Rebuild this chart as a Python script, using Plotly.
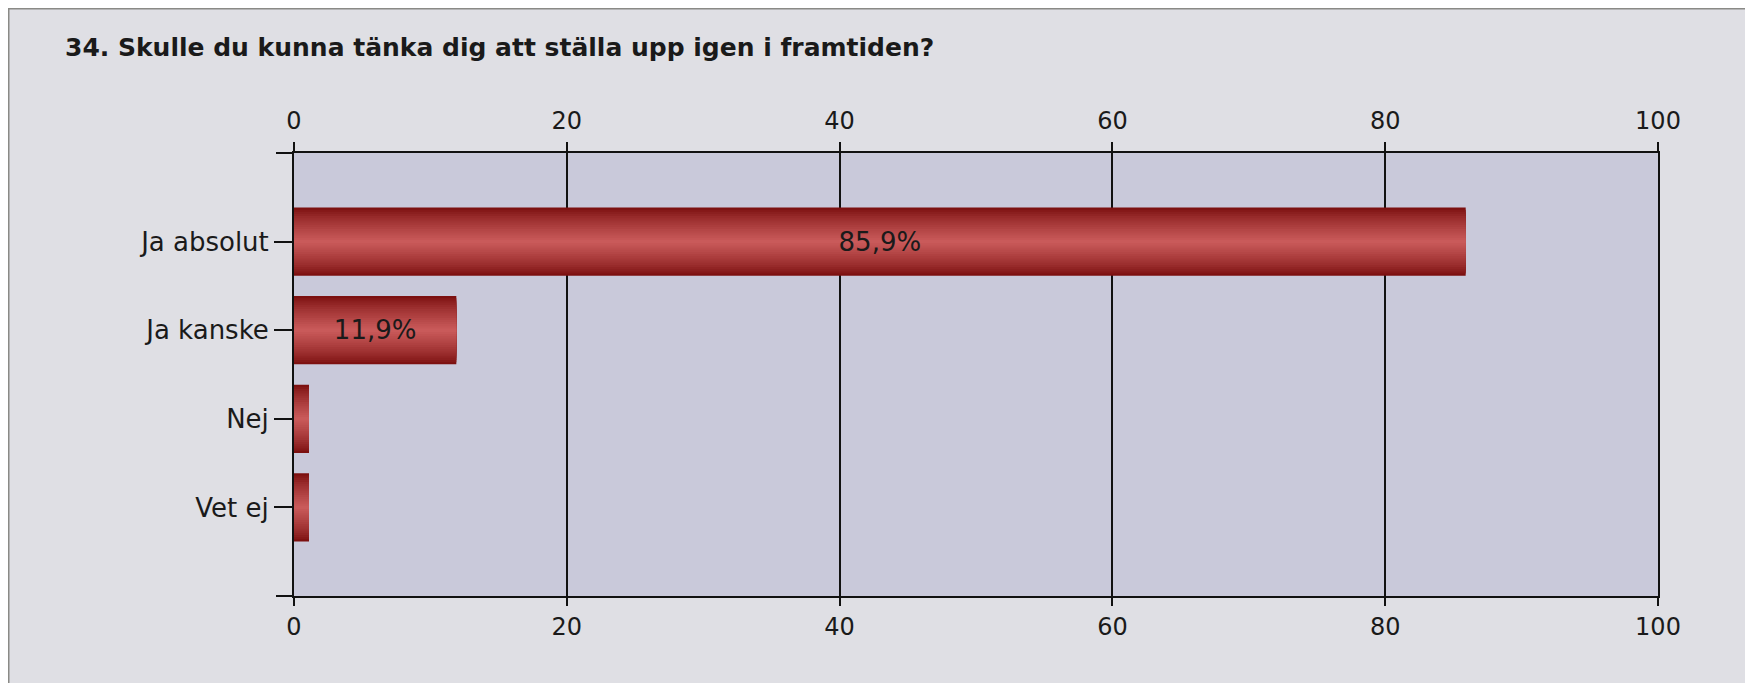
import plotly.graph_objects as go

categories = ["Ja absolut", "Ja kanske", "Nej", "Vet ej"]
percent = [85.9, 11.9, 1.1, 1.1]
x_ticks = [0, 20, 40, 60, 80, 100]
title = "34. Skulle du kunna tänka dig att ställa upp igen i framtiden?"

FONT = "DejaVu Sans"
# page body adds an 8px margin, so the figure is drawn 8px smaller
OFF = 8
W, H = 1753 - OFF, 683 - OFF
L, R, T, B = 294 - OFF, 95, 153 - OFF, 87
pw, ph = W - L - R, H - T - B


def px_x(p):
    return (p - L) / pw


def px_y(p):
    return (H - B - p) / ph


# bar look: stacked layers from dark edge to light centre (fake gradient)
edge, centre = (124, 16, 16), (201, 90, 90)
n_layers = 16
layers = []
for k in range(n_layers):
    t = k / (n_layers - 1)
    w = 0.77 - k * (0.77 - 0.04) / (n_layers - 1)
    rgb = [round(a + (b - a) * t ** 0.8) for a, b in zip(edge, centre)]
    layers.append((w, "rgb({},{},{})".format(*rgb)))

labels = [f"{v:.1f}%".replace(".", ",") if v > 5 else "" for v in percent]

fig = go.Figure()
for i, (w, c) in enumerate(layers):
    last = i == len(layers) - 1
    fig.add_trace(go.Bar(
        x=percent, y=categories, orientation="h",
        width=w, marker=dict(color=c, line=dict(width=0)),
        text=labels if last else None,
        textposition="inside" if last else "none",
        insidetextanchor="middle",
        constraintext="none",
        textfont=dict(family=FONT, size=26, color="#1a1a1a"),
        hoverinfo="skip" if not last else None,
        showlegend=False,
    ))

# invisible trace so the top axis gets drawn
fig.add_trace(go.Scatter(x=percent, y=categories, xaxis="x2", mode="markers",
                         marker=dict(opacity=0), hoverinfo="skip", showlegend=False))

tick_font = dict(family=FONT, size=24, color="#1a1a1a")
cat_font = dict(family=FONT, size=26, color="#1a1a1a")

fig.update_layout(
    width=W, height=H,
    barmode="overlay",
    paper_bgcolor="#dfdfe4",
    plot_bgcolor="#c9c9da",
    margin=dict(l=L, r=R, t=T, b=B, autoexpand=False),
    title=dict(text=f"<b>{title}</b>", x=(65 - OFF) / W, xref="container", xanchor="left",
               y=1 - (47 - OFF) / H, yref="container", yanchor="middle",
               font=dict(family=FONT, size=25, color="#1a1a1a")),
    xaxis=dict(range=[0, 100], tickvals=x_ticks, showgrid=True, gridcolor="#111111",
               gridwidth=2, zeroline=False, showline=True, linecolor="#111111", linewidth=2,
               ticks="outside", ticklen=8, tickwidth=2, tickcolor="#111111",
               tickfont=tick_font, ticklabelstandoff=0, automargin=False),
    xaxis2=dict(range=[0, 100], tickvals=x_ticks, overlaying="x", side="top", anchor="y",
                showgrid=False, zeroline=False, showline=True, linecolor="#111111", linewidth=2,
                ticks="outside", ticklen=9, tickwidth=2, tickcolor="#111111",
                tickfont=tick_font, ticklabelstandoff=3, automargin=False),
    yaxis=dict(type="category", categoryorder="array", categoryarray=categories,
               range=[4, -1], showgrid=False, zeroline=False,
               showline=True, mirror=True, linecolor="#111111", linewidth=2,
               ticks="outside", ticklen=18, tickwidth=2, tickcolor="#111111",
               tickfont=cat_font, ticklabelstandoff=0, automargin=False),
    font=dict(family=FONT),
)

shapes = []
# little extensions of the top and bottom axis lines to the left
for yy in (0, 1):
    shapes.append(dict(type="line", xref="paper", yref="paper", x0=-18 / pw, x1=0,
                       y0=yy, y1=yy, line=dict(color="#111111", width=2)))
# white strip right of the frame
right = 1747 - OFF
shapes.append(dict(type="rect", xref="paper", yref="paper", x0=px_x(right), x1=px_x(W + 10),
                   y0=px_y(H + 10), y1=px_y(-10), fillcolor="white", line=dict(width=0)))
# grey frame
frame = dict(color="#8a8a86", width=2)
shapes.append(dict(type="line", xref="paper", yref="paper", x0=px_x(0), x1=px_x(right),
                   y0=px_y(0.5), y1=px_y(0.5), line=frame))
shapes.append(dict(type="line", xref="paper", yref="paper", x0=px_x(0.5), x1=px_x(0.5),
                   y0=px_y(0), y1=px_y(H + 10), line=frame))
shapes.append(dict(type="line", xref="paper", yref="paper", x0=px_x(right), x1=px_x(right),
                   y0=px_y(0), y1=px_y(H + 10), line=frame))
fig.update_layout(shapes=shapes)

fig.write_html("out.html")
